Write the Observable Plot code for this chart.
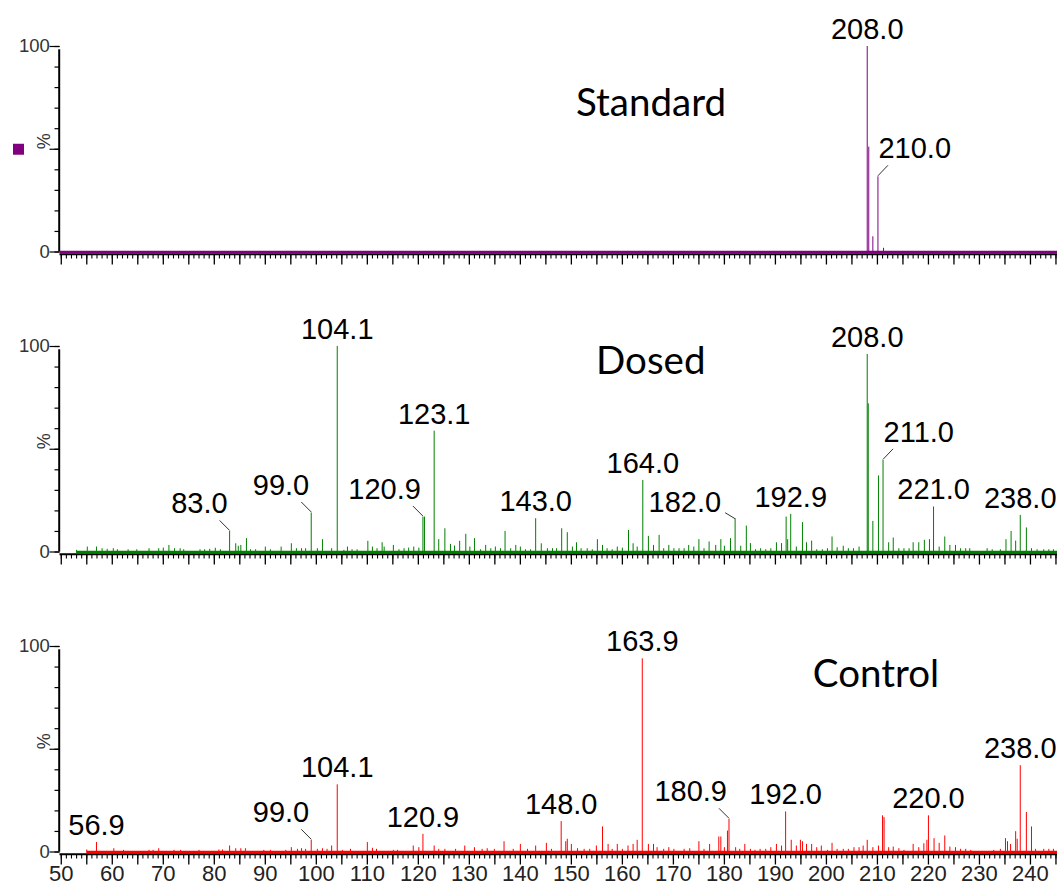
<!DOCTYPE html>
<html>
<head>
<meta charset="utf-8">
<script src="https://cdn.jsdelivr.net/npm/d3@7"></script>
<script src="https://cdn.jsdelivr.net/npm/@observablehq/plot@0.6"></script>
<style>
html, body { margin: 0; padding: 0; background: #fff; overflow: hidden; }
#chart svg { display: block; }
</style>
</head>
<body>
<div id="chart"></div>
<script>
// ---------------- DATA ----------------
const panelNames = ["Standard", "Dosed", "Control"];
const seriesColors = ["#800080", "#008000", "#ff0000"];
const scanStart = [49.75, 53.0, 55.0];

const standardMz  = [208.0, 208.3, 209.1, 210.1, 211.2];
const standardInt = [100, 51, 7.4, 36.6, 1.8];

const dosedMz = [
  53.0,55.1,56.9,58.0,59.0,60.2,61.0,63.1,64.8,67.2,
  69.1,70.0,71.1,72.2,73.3,74.0,77.2,78.1,79.1,80.2,
  81.2,83.0,84.2,84.7,85.2,86.3,87.1,88.1,90.0,91.0,
  93.1,95.1,96.1,97.1,97.9,99.0,100.2,101.2,103.0,104.1,
  105.4,106.1,107.0,108.0,110.1,111.0,111.9,112.9,113.3,115.1,
  116.2,117.2,118.1,119.1,120.1,120.9,121.2,123.1,124.0,125.2,
  126.3,127.1,128.1,129.3,130.1,131.0,132.2,133.2,134.2,135.1,
  136.1,137.0,138.1,139.1,140.0,141.0,142.0,143.0,144.1,145.3,
  146.3,147.1,148.1,149.2,150.2,151.0,151.9,153.1,154.1,155.1,
  156.1,157.0,158.0,159.0,160.0,161.2,162.1,162.9,164.0,165.1,
  166.1,167.2,168.1,169.1,170.1,171.1,172.1,173.0,174.0,175.0,
  176.0,177.0,178.3,179.3,180.0,181.2,182.1,183.2,184.3,185.1,
  186.1,187.1,188.1,189.1,190.2,191.2,192.1,192.4,193.0,194.1,
  195.3,196.1,197.1,198.1,199.2,200.2,201.1,202.1,203.3,204.3,
  205.3,206.4,208.0,208.2,209.1,210.2,211.1,212.2,213.1,214.2,
  215.2,216.2,217.0,218.1,219.2,220.2,221.0,222.1,223.2,224.2,
  225.3,226.3,227.3,228.1,231.5,232.5,234.1,235.2,236.2,237.1,
  238.0,239.2,240.2,241.3,242.6,243.6,244.5
];
const dosedInt = [
  0.8,2.4,2.4,1.6,1.3,1.6,1.1,1.1,1.1,1.6,
  1.6,1.9,3.2,1.6,1.6,1.1,1.1,1.1,1.3,1.8,
  1.1,10,4.0,2.8,3.2,6.5,1.1,1.1,2.4,1.1,
  2.4,4.0,1.6,1.6,1.6,19,1.6,6.0,1.6,100,
  0.8,2.4,1.1,1.1,5.2,2.4,1.6,4.5,2.4,3.2,
  1.1,1.6,1.9,2.4,1.9,17,17,58.8,6.0,11.3,
  3.7,2.9,5.2,8.6,2.4,6.5,1.1,3.2,1.6,2.4,
  1.6,10,1.6,3.2,2.4,1.1,1.1,16.2,4.0,1.6,
  1.6,1.6,11.3,9.4,2.4,4.5,1.6,1.6,1.1,6.0,
  3.2,1.6,1.1,2.4,1.9,10.5,4.0,2.4,34.8,7.6,
  3.2,8.1,1.6,3.2,1.6,1.6,1.6,3.2,2.4,6.0,
  1.6,4.9,3.2,6.0,2.8,6.5,16.2,2.8,12.6,4.1,
  1.1,1.6,1.1,1.6,4.5,4.1,17,6.0,18.3,2.4,
  14.3,4.5,5.3,1.1,1.1,1.6,7.3,2.1,2.8,1.6,
  1.6,2.4,96.1,72.1,14.9,37,44.6,4.5,6.8,1.6,
  1.6,1.6,4.5,4.5,5.7,6.0,21.9,2.4,7.3,3.2,
  3.2,1.6,1.6,1.6,1.6,1.1,1.1,6.0,10,5.3,
  17.8,11.7,1.6,1.1,1.1,1.1,1.1
];

const controlMz = [
  55.0,56.9,60.3,62.2,67.2,68.0,69.1,72.1,73.4,77.0,
  80.9,81.6,83.0,84.2,85.2,86.1,89.7,91.0,94.0,95.1,
  96.3,97.1,97.9,99.0,100.2,101.2,102.1,103.0,104.1,105.1,
  106.7,110.0,111.0,111.8,115.1,115.9,119.0,120.1,120.9,123.1,
  124.0,125.2,127.3,129.1,131.0,132.5,133.5,134.9,136.8,138.6,
  140.0,141.4,143.0,145.1,146.1,148.0,148.9,149.2,150.0,151.2,
  152.5,153.6,154.9,156.1,157.2,158.0,159.0,160.0,161.1,162.1,
  162.9,163.9,165.1,166.1,166.8,168.1,169.1,170.1,172.1,173.2,
  175.0,176.0,177.1,178.9,179.3,180.0,180.6,180.9,182.2,183.0,
  184.0,185.1,186.0,187.0,188.1,189.1,190.2,191.2,192.0,193.1,
  194.1,194.9,195.3,196.1,197.1,198.1,199.0,200.2,201.1,202.1,
  203.3,204.3,205.4,206.4,207.2,208.0,209.1,210.2,211.0,211.3,
  212.2,213.1,214.2,215.2,217.0,218.1,219.1,219.7,220.0,221.1,
  222.1,223.2,224.2,225.3,226.3,227.3,228.3,232.8,234.1,235.1,
  235.5,236.1,237.1,237.4,238.0,239.2,240.2,241.0,242.6,243.6,
  244.5
];
const controlInt = [
  1.0,4.6,1.6,0.8,0.8,0.8,1.6,0.8,0.8,0.8,
  1.0,1.0,2.9,1.6,1.6,1.6,0.8,0.8,0.8,2.1,
  1.3,1.6,1.3,5.7,1.3,1.6,1.3,2.9,32.7,0.8,
  1.3,4.6,1.8,1.3,0.8,0.8,2.9,2.1,8.6,2.9,
  1.3,1.3,1.3,2.9,2.1,1.3,1.6,1.3,5.0,1.3,
  3.7,1.3,2.9,4.2,1.3,14.8,5.0,6.2,3.7,1.6,
  1.3,1.3,2.9,12.2,3.7,1.3,3.7,1.3,2.9,3.7,
  5.7,94,3.7,3.7,2.1,1.3,2.1,1.3,1.3,1.6,
  5.0,1.3,3.7,7.3,7.3,2.1,10.2,15.9,2.1,1.3,
  3.7,1.3,0.8,1.3,1.3,2.1,3.7,2.9,19.5,5.7,
  2.9,5.7,5.0,3.7,3.7,2.1,2.9,0.8,4.2,1.3,
  1.3,1.3,2.1,2.1,2.9,5.7,2.1,2.9,17.6,16.7,
  2.1,2.4,1.6,0.8,3.7,2.1,4.0,5.7,17.6,6.5,
  4.2,7.8,2.4,2.1,1.3,1.3,0.8,0.8,1.3,6.5,
  5.0,3.7,9.9,6.2,42,19.2,12.2,1.3,1.3,1.3,
  1.3
];

const standardLabelMz   = [208.0, 210.1];
const standardLabelText = ["208.0", "210.0"];
const dosedLabelMz   = [83.0, 99.0, 104.1, 120.9, 123.1, 143.0, 164.0, 182.1, 193.0, 208.0, 211.1, 221.0, 238.0];
const dosedLabelText = ["83.0","99.0","104.1","120.9","123.1","143.0","164.0","182.0","192.9","208.0","211.0","221.0","238.0"];
const controlLabelMz   = [56.9, 99.0, 104.1, 120.9, 148.0, 163.9, 180.9, 192.0, 220.0, 238.0];
const controlLabelText = ["56.9","99.0","104.1","120.9","148.0","163.9","180.9","192.0","220.0","238.0"];

const xTickLabels = [50,60,70,80,90,100,110,120,130,140,150,160,170,180,190,200,210,220,230,240];
const yTickLabels = [0, 100];
const yMajorTicks = [0, 50, 100];

// ---------------- LAYOUT ----------------
const W = 1057, ML = 59.5, MT = 46, Y0 = 251.5;
const XMIN = 49.75, XMAX = 245.3;
const heights = [300, 300, 284];
const kx = (W - ML) / (XMAX - XMIN);   // px per m/z unit
const ky = (Y0 - MT) / 100;            // px per %
const titleLayout = [{dx: 591, dy: 69}, {dx: 590.8, dy: 27.3}, {dx: 816, dy: 40.7}];
const placements = [
  {"210.0": "right"},
  {"83.0": "left", "99.0": "left", "120.9": "left", "182.0": "side", "211.0": "right"},
  {"99.0": "left", "180.9": "left"}
];
const anchors = {
  above: {textAnchor: "middle", dx: 0, dy: -7.5, leader: null},
  left:  {textAnchor: "end", dx: -2, dy: -18, leader: [0, -1, -10, -11]},
  right: {textAnchor: "start", dx: 0.5, dy: -18.5, leader: [0, -1, 10, -11.5]},
  side:  {textAnchor: "end", dx: -14, dy: -6.5, leader: [0, 0, -10, -6]}
};
const LABEL_FONT = "'Liberation Sans', Arial, sans-serif";

function drawPanel(i, mzs, ints, labelMz, labelText, last) {
  const color = seriesColors[i];
  const peaks = mzs.map((mz, j) => ({mz, int: ints[j]}));
  const labels = labelMz.map((mz, j) => ({
    mz, int: ints[mzs.indexOf(mz)], text: labelText[j],
    place: placements[i][labelText[j]] || "above"
  }));
  const leaders = [];
  labels.forEach(l => {
    const a = anchors[l.place].leader;
    if (a) leaders.push({
      x1: l.mz + a[0] / kx, y1: l.int - a[1] / ky,
      x2: l.mz + a[2] / kx, y2: l.int - a[3] / ky
    });
  });

  const marks = [
    // y axis ticks
    Plot.axisY(d3.range(0, 101, 10), {tickSize: 5, fill: "none", label: null, strokeWidth: 1.2}),
    Plot.axisY(yMajorTicks, {tickSize: 10, fill: "none", label: null, strokeWidth: 1.2}),
    Plot.axisY(yTickLabels, {tickSize: 0, tickPadding: 10.2, fill: "#333", fontSize: 18.5, label: null}),
    Plot.text(["%"], {frameAnchor: "left", text: d => d, rotate: -90, dx: -16, fontSize: 18, fill: "#333"}),
    // x axis ticks
    Plot.axisX(d3.range(50, 246, 1), {tickSize: 4, fill: "none", dy: 3, label: null, strokeWidth: 1.1}),
    Plot.axisX(d3.range(50, 246, 5), {tickSize: 10, fill: "none", dy: 3, label: null, strokeWidth: 1.3}),
  ];
  if (last) marks.push(Plot.axisX(xTickLabels, {tickSize: 0, tickPadding: 10.5, dy: 3, fontSize: 22, fill: "#222", label: null}));
  marks.push(
    // axis lines
    Plot.ruleY([0], {stroke: "black", strokeWidth: 2, dy: 2.2}),
    Plot.ruleX([XMIN], {y1: 0, y2: 100, stroke: "black", strokeWidth: 2, insetBottom: -3.3, dx: -0.8}),
    // coloured scan baseline
    Plot.ruleY([scanStart[i]], {x1: d => d, x2: XMAX, y: 0, stroke: color, strokeWidth: 2.4}),
    // spectrum peaks
    Plot.ruleX(peaks, {x: "mz", y1: 0, y2: "int", stroke: color, strokeWidth: 1}),
    // leaders
    Plot.link(leaders, {x1: "x1", y1: "y1", x2: "x2", y2: "y2", stroke: "#333", strokeWidth: 1}),
  );
  for (const place of Object.keys(anchors)) {
    const a = anchors[place];
    marks.push(Plot.text(labels.filter(l => l.place === place), {
      x: "mz", y: "int", text: "text", textAnchor: a.textAnchor, lineAnchor: "bottom",
      dx: a.dx, dy: a.dy, fontSize: 29, fontFamily: LABEL_FONT, fill: "black"
    }));
  }
  // panel title
  marks.push(Plot.text([panelNames[i]], {
    frameAnchor: "top-left", text: d => d, dx: titleLayout[i].dx, dy: titleLayout[i].dy,
    textAnchor: "middle", lineAnchor: "bottom", fontFamily: "Lato, 'Open Sans', sans-serif",
    fontSize: 38.5, fill: "black"
  }));
  if (i === 0) {
    marks.push(Plot.dot([panelNames[0]], {frameAnchor: "left", dx: -41.5, r: 6.2, symbol: "square", fill: color, stroke: "none"}));
  }

  return Plot.plot({
    width: W, height: heights[i],
    marginLeft: ML, marginRight: 0, marginTop: MT, marginBottom: heights[i] - Y0,
    x: {domain: [XMIN, XMAX], axis: null, label: null},
    y: {domain: [0, 100], axis: null, label: null},
    style: {fontFamily: LABEL_FONT, fontSize: "18px", background: "white", overflow: "visible"},
    marks
  });
}

const chart = document.getElementById("chart");
chart.appendChild(drawPanel(0, standardMz, standardInt, standardLabelMz, standardLabelText, false));
chart.appendChild(drawPanel(1, dosedMz, dosedInt, dosedLabelMz, dosedLabelText, false));
chart.appendChild(drawPanel(2, controlMz, controlInt, controlLabelMz, controlLabelText, true));
</script>
</body>
</html>
